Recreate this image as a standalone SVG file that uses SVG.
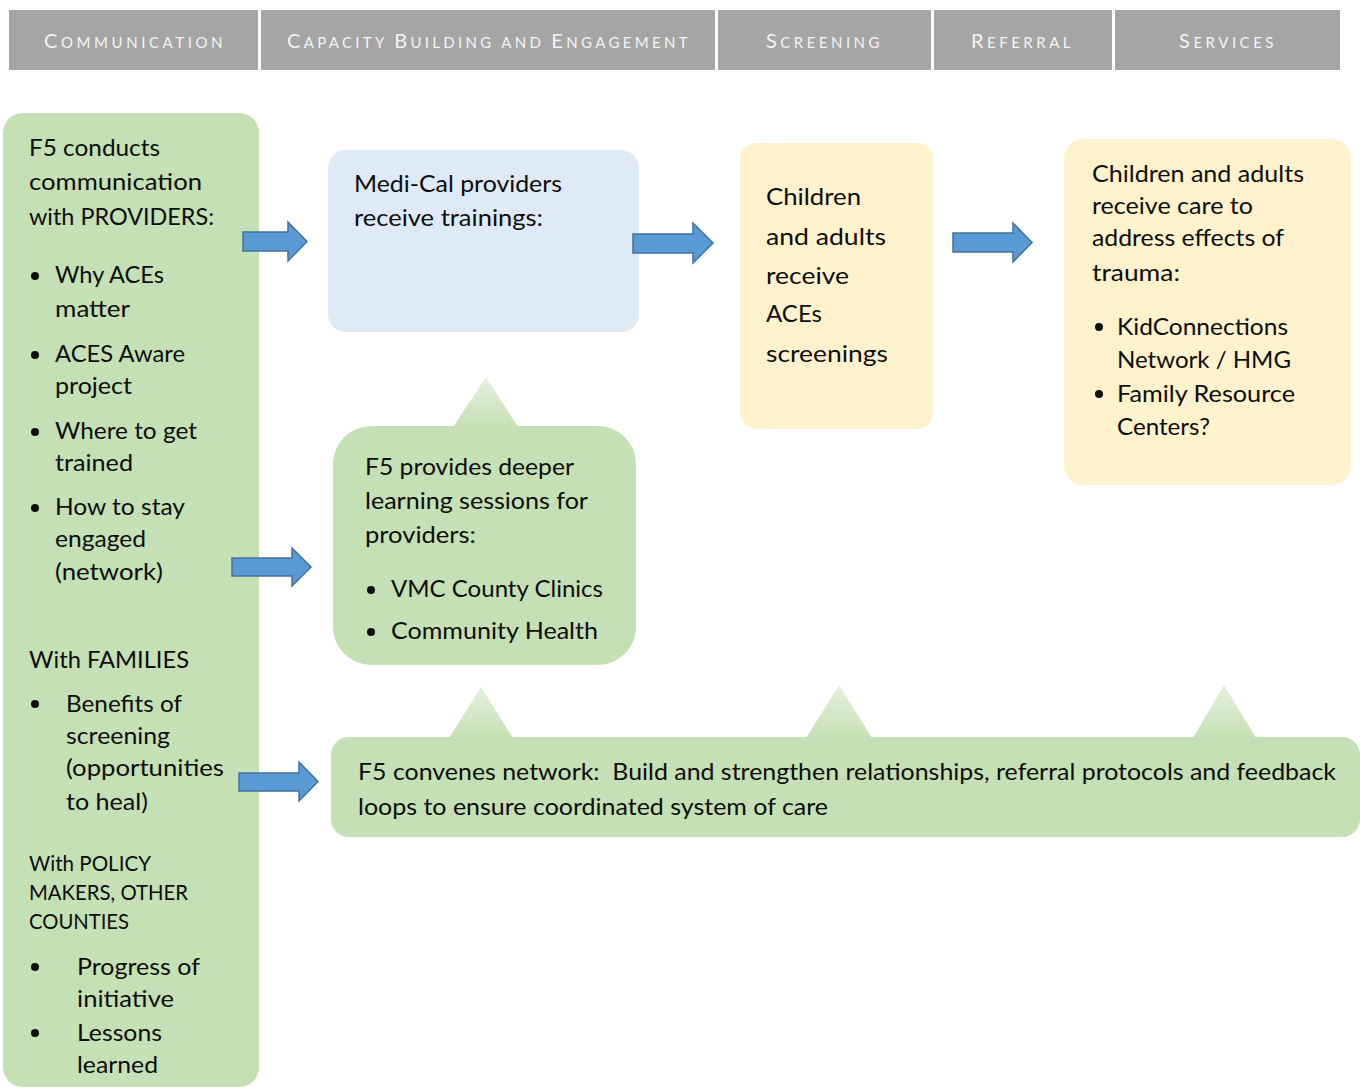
<svg xmlns="http://www.w3.org/2000/svg" width="1360" height="1088" viewBox="0 0 1360 1088">
<style>
.hdr{fill:#a5a5a5}
.hl{font-family:Lato,"Liberation Sans",sans-serif;font-size:15px;fill:#f4f4f4;letter-spacing:2.5px}
.hl .b{font-size:20px}
.green{fill:#c5e0b4}
.blue{fill:#deeaf6}
.yel{fill:#fff2cc}
.t{font-family:Lato,"Liberation Sans",sans-serif;font-size:23px;fill:#0d0d0d}
.s{font-size:20.5px}
.bul{fill:#0d0d0d}
.arrow{fill:#5b9bd5;stroke:#41719c;stroke-width:1.5}
.tri{fill:url(#tg)}
</style>
<defs>
<linearGradient id="tg" x1="0" y1="0" x2="0" y2="1">
<stop offset="0" stop-color="#e6f1df"/>
<stop offset="1" stop-color="#c5e0b4"/>
</linearGradient>
</defs>
<rect width="1360" height="1088" fill="#fff"/>

<g id="header">
<rect class="hdr" x="9" y="10" width="249" height="60"/>
<rect class="hdr" x="261" y="10" width="454" height="60"/>
<rect class="hdr" x="718" y="10" width="213" height="60"/>
<rect class="hdr" x="934" y="10" width="178" height="60"/>
<rect class="hdr" x="1115" y="10" width="225" height="60"/>
<text class="hl" x="44" y="48" textLength="181"><tspan class="b">C</tspan>OMMUNICATION</text>
<text class="hl" x="287" y="48" textLength="403"><tspan class="b">C</tspan>APACITY <tspan class="b">B</tspan>UILDING AND <tspan class="b">E</tspan>NGAGEMENT</text>
<text class="hl" x="766" y="48" textLength="116"><tspan class="b">S</tspan>CREENING</text>
<text class="hl" x="971" y="48" textLength="102"><tspan class="b">R</tspan>EFERRAL</text>
<text class="hl" x="1179" y="48" textLength="97"><tspan class="b">S</tspan>ERVICES</text>
</g>

<g id="communication">
<rect class="green" x="3" y="113" width="256" height="974" rx="20"/>
<text class="t" x="29" y="156" textLength="131" lengthAdjust="spacingAndGlyphs">F5 conducts</text>
<text class="t" x="29" y="190" textLength="173" lengthAdjust="spacingAndGlyphs">communication</text>
<text class="t" x="29" y="225" textLength="185" lengthAdjust="spacingAndGlyphs">with PROVIDERS:</text>
<circle class="bul" cx="35" cy="276" r="4"/>
<text class="t" x="55" y="283" textLength="109" lengthAdjust="spacingAndGlyphs">Why ACEs</text>
<text class="t" x="55" y="317" textLength="75" lengthAdjust="spacingAndGlyphs">matter</text>
<circle class="bul" cx="35" cy="355" r="4"/>
<text class="t" x="55" y="362" textLength="130" lengthAdjust="spacingAndGlyphs">ACES Aware</text>
<text class="t" x="55" y="394" textLength="77" lengthAdjust="spacingAndGlyphs">project</text>
<circle class="bul" cx="35" cy="432" r="4"/>
<text class="t" x="55" y="439" textLength="142" lengthAdjust="spacingAndGlyphs">Where to get</text>
<text class="t" x="55" y="471" textLength="78" lengthAdjust="spacingAndGlyphs">trained</text>
<circle class="bul" cx="35" cy="508" r="4"/>
<text class="t" x="55" y="515" textLength="130" lengthAdjust="spacingAndGlyphs">How to stay</text>
<text class="t" x="55" y="547" textLength="91" lengthAdjust="spacingAndGlyphs">engaged</text>
<text class="t" x="55" y="580" textLength="108" lengthAdjust="spacingAndGlyphs">(network)</text>
<text class="t" x="29" y="668" textLength="160" lengthAdjust="spacingAndGlyphs">With FAMILIES</text>
<circle class="bul" cx="35" cy="704" r="4"/>
<text class="t" x="66" y="712" textLength="116" lengthAdjust="spacingAndGlyphs">Benefits of</text>
<text class="t" x="66" y="744" textLength="104" lengthAdjust="spacingAndGlyphs">screening</text>
<text class="t" x="66" y="776" textLength="158" lengthAdjust="spacingAndGlyphs">(opportunities</text>
<text class="t" x="66" y="810" textLength="82" lengthAdjust="spacingAndGlyphs">to heal)</text>
<text class="t s" x="29" y="871" textLength="122" lengthAdjust="spacingAndGlyphs">With POLICY</text>
<text class="t s" x="29" y="900" textLength="159" lengthAdjust="spacingAndGlyphs">MAKERS, OTHER</text>
<text class="t s" x="29" y="929" textLength="100" lengthAdjust="spacingAndGlyphs">COUNTIES</text>
<circle class="bul" cx="35" cy="967" r="4"/>
<text class="t" x="77" y="975" textLength="123" lengthAdjust="spacingAndGlyphs">Progress of</text>
<text class="t" x="77" y="1007" textLength="97" lengthAdjust="spacingAndGlyphs">initiative</text>
<circle class="bul" cx="35" cy="1033" r="4"/>
<text class="t" x="77" y="1041" textLength="85" lengthAdjust="spacingAndGlyphs">Lessons</text>
<text class="t" x="77" y="1073" textLength="81" lengthAdjust="spacingAndGlyphs">learned</text>
</g>

<g id="medi-cal">
<rect class="blue" x="328" y="150" width="311" height="182" rx="18"/>
<text class="t" x="354" y="192" textLength="208" lengthAdjust="spacingAndGlyphs">Medi-Cal providers</text>
<text class="t" x="354" y="226" textLength="189" lengthAdjust="spacingAndGlyphs">receive trainings:</text>
</g>

<g id="screening">
<rect class="yel" x="740" y="143" width="193" height="286" rx="16"/>
<text class="t" x="766" y="205" textLength="95" lengthAdjust="spacingAndGlyphs">Children</text>
<text class="t" x="766" y="245" textLength="120" lengthAdjust="spacingAndGlyphs">and adults</text>
<text class="t" x="766" y="284" textLength="83" lengthAdjust="spacingAndGlyphs">receive</text>
<text class="t" x="766" y="322" textLength="56" lengthAdjust="spacingAndGlyphs">ACEs</text>
<text class="t" x="766" y="362" textLength="122" lengthAdjust="spacingAndGlyphs">screenings</text>
</g>

<g id="services">
<rect class="yel" x="1064" y="139" width="287" height="346" rx="20"/>
<text class="t" x="1092" y="182" textLength="212" lengthAdjust="spacingAndGlyphs">Children and adults</text>
<text class="t" x="1092" y="214" textLength="161" lengthAdjust="spacingAndGlyphs">receive care to</text>
<text class="t" x="1092" y="246" textLength="192" lengthAdjust="spacingAndGlyphs">address effects of</text>
<text class="t" x="1092" y="281" textLength="88" lengthAdjust="spacingAndGlyphs">trauma:</text>
<circle class="bul" cx="1099" cy="327" r="4"/>
<text class="t" x="1117" y="335" textLength="171" lengthAdjust="spacingAndGlyphs">KidConnections</text>
<text class="t" x="1117" y="368" textLength="174" lengthAdjust="spacingAndGlyphs">Network / HMG</text>
<circle class="bul" cx="1099" cy="394" r="4"/>
<text class="t" x="1117" y="402" textLength="178" lengthAdjust="spacingAndGlyphs">Family Resource</text>
<text class="t" x="1117" y="435" textLength="93" lengthAdjust="spacingAndGlyphs">Centers?</text>
</g>

<g id="deeper-learning">
<polygon class="tri" points="486,377 518,427 453,427"/>
<rect class="green" x="333" y="426" width="303" height="239" rx="38"/>
<text class="t" x="365" y="475" textLength="209" lengthAdjust="spacingAndGlyphs">F5 provides deeper</text>
<text class="t" x="365" y="509" textLength="223" lengthAdjust="spacingAndGlyphs">learning sessions for</text>
<text class="t" x="365" y="543" textLength="111" lengthAdjust="spacingAndGlyphs">providers:</text>
<circle class="bul" cx="371" cy="590" r="4"/>
<text class="t" x="391" y="597" textLength="212" lengthAdjust="spacingAndGlyphs">VMC County Clinics</text>
<circle class="bul" cx="371" cy="632" r="4"/>
<text class="t" x="391" y="639" textLength="207" lengthAdjust="spacingAndGlyphs">Community Health</text>
</g>

<g id="network">
<polygon class="tri" points="481,687 513,738 449,738"/>
<polygon class="tri" points="839,685 872,738 806,738"/>
<polygon class="tri" points="1224,685 1256,738 1193,738"/>
<rect class="green" x="331" y="737" width="1029" height="100" rx="18"/>
<text class="t" x="358" y="780" textLength="978" lengthAdjust="spacingAndGlyphs">F5 convenes network:&#160; Build and strengthen relationships, referral protocols and feedback</text>
<text class="t" x="358" y="815" textLength="470" lengthAdjust="spacingAndGlyphs">loops to ensure coordinated system of care</text>
</g>

<g id="connectors">
<polygon class="arrow" points="243,232 288,232 288,222 307,241.5 288,261 288,251 243,251"/>
<polygon class="arrow" points="633,234 693,234 693,223 713,243 693,263 693,253 633,253"/>
<polygon class="arrow" points="953,233 1013,233 1013,223 1032,242.5 1013,262 1013,252 953,252"/>
<polygon class="arrow" points="232,558 292,558 292,548 311,567 292,586 292,576 232,576"/>
<polygon class="arrow" points="239,773 299,773 299,762 318,781.5 299,801 299,791 239,791"/>
</g>
</svg>
